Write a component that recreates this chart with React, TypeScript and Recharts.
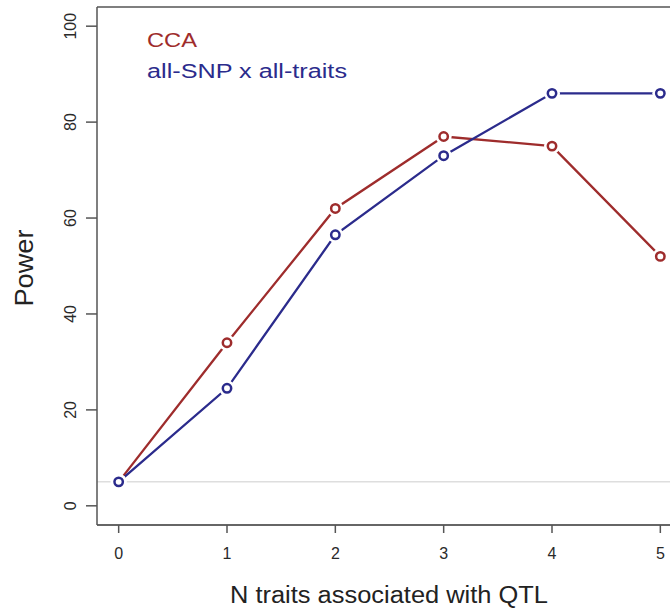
import React from "react"
import { LineChart, Line, XAxis, YAxis, ReferenceLine } from "recharts"

const traits = [0, 1, 2, 3, 4, 5]
const ccaPower = [5, 34, 62, 77, 75, 52]
const allSnpPower = [5, 24.5, 56.5, 73, 86, 86]
const yTicks = [0, 20, 40, 60, 80, 100]
const seriesNames = ["CCA", "all-SNP x all-traits"]

const RED = "#9e2c2c"
const BLUE = "#2b2b8c"
const FONT = "'Liberation Sans', Arial, Helvetica, sans-serif"

const data = traits.map((t, i) => ({ n: t, cca: ccaPower[i], allSnp: allSnpPower[i] }))

function makeDot(color: string) {
  return (props: any) => {
    const { cx, cy, index } = props
    if (cx == null || cy == null) return <g key={index} />
    return (
      <g key={index}>
        <circle cx={cx} cy={cy} r={8} fill="#fff" stroke="none" />
        <circle cx={cx} cy={cy} r={4.2} fill="#fff" stroke={color} strokeWidth={2.5} />
      </g>
    )
  }
}

function YTick(props: any) {
  const { x, y, payload } = props
  return (
    <text
      transform={`translate(${x - 16},${y}) rotate(-90)`}
      textAnchor="middle"
      dy="0.36em"
      fontSize={16}
      fontFamily={FONT}
      fill="#2a2a2a"
    >
      {payload.value}
    </text>
  )
}

function XTick(props: any) {
  const { x, y, payload } = props
  return (
    <text x={x} y={y + 26} textAnchor="middle" fontSize={16} fontFamily={FONT} fill="#2a2a2a">
      {payload.value}
    </text>
  )
}

export default function App() {
  return (
    <div style={{ position: "absolute", left: 0, top: 0, width: 670, height: 609, overflow: "hidden", background: "#fff" }}>
      <LineChart width={700} height={609} data={data} margin={{ top: 7, right: 18, left: 0, bottom: 0 }}>
        <XAxis
          dataKey="n"
          type="number"
          domain={[-0.2, 5.2]}
          ticks={traits}
          allowDataOverflow
          height={84}
          tickSize={8}
          tickMargin={0}
          tick={<XTick />}
          axisLine={{ stroke: "#333", strokeWidth: 1.5 }}
          tickLine={{ stroke: "#555", strokeWidth: 1.5 }}
        />
        <YAxis
          type="number"
          domain={[-4, 104]}
          ticks={yTicks}
          allowDataOverflow
          width={97}
          tickSize={11}
          tickMargin={0}
          tick={<YTick />}
          axisLine={{ stroke: "#555", strokeWidth: 1.5 }}
          tickLine={{ stroke: "#555", strokeWidth: 1.5 }}
        />
        <ReferenceLine y={104} stroke="#555" strokeWidth={1.5} />
        <ReferenceLine y={5} stroke="#dedede" strokeWidth={1.5} />
        <Line
          dataKey="cca"
          stroke={RED}
          strokeWidth={2.3}
          dot={makeDot(RED)}
          activeDot={false}
          isAnimationActive={false}
        />
        <Line
          dataKey="allSnp"
          stroke={BLUE}
          strokeWidth={2.3}
          dot={makeDot(BLUE)}
          activeDot={false}
          isAnimationActive={false}
        />
      </LineChart>
      <svg width={670} height={609} style={{ position: "absolute", left: 0, top: 0, pointerEvents: "none" }}>
        <text x={147} y={47} fontSize={20} fontFamily={FONT} fill={RED} textLength={50} lengthAdjust="spacingAndGlyphs">
          {seriesNames[0]}
        </text>
        <text x={147} y={78} fontSize={20} fontFamily={FONT} fill={BLUE} textLength={200} lengthAdjust="spacingAndGlyphs">
          {seriesNames[1]}
        </text>
        <text x={230} y={603} fontSize={23} fontFamily={FONT} fill="#222" textLength={318} lengthAdjust="spacingAndGlyphs">
          N traits associated with QTL
        </text>
        <text
          transform="translate(33,268) rotate(-90)"
          textAnchor="middle"
          fontSize={26}
          fontFamily={FONT}
          fill="#222"
          textLength={77}
          lengthAdjust="spacingAndGlyphs"
        >
          Power
        </text>
      </svg>
    </div>
  )
}
